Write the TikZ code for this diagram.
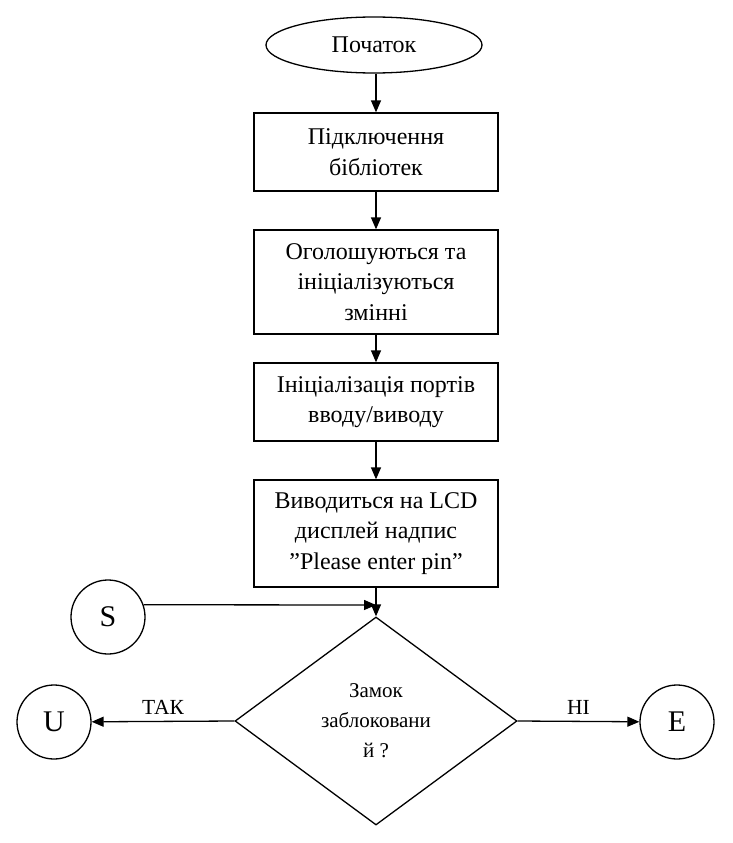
\documentclass[tikz,border=0pt]{standalone}
\usepackage{fontspec}
\setmainfont{Liberation Serif}
\usetikzlibrary{shapes.geometric,arrows.meta}
\begin{document}
\begin{tikzpicture}[x=1pt,y=-1pt,
  every node/.style={font=\fontsize{24}{30.5}\selectfont, align=center},
  proc/.style={draw, line width=1.3pt, minimum width=244pt, inner sep=0pt},
  term/.style={draw, ellipse, line width=1.3pt, minimum width=216pt, minimum height=56pt, inner sep=0pt},
  conn/.style={draw, circle, line width=1.3pt, minimum size=74pt, inner sep=0pt, font=\fontsize{30}{30}\selectfont},
  dec/.style={draw, diamond, line width=1.3pt, minimum width=282pt, minimum height=208pt, inner sep=0pt, font=\fontsize{21}{30}\selectfont},
  arr/.style={line width=1.3pt, -{Triangle[length=12pt,width=10pt]}},
  lbl/.style={font=\fontsize{21.5}{22}\selectfont}]
\useasboundingbox (0,0) rectangle (733,843);
\node[term] (start) at (374,45) {Початок};
\node[proc, minimum height=78pt] (b1) at (376,152) {Підключення\\бібліотек};
\node[proc, minimum height=104pt] (b2) at (376,282) {Оголошуються та\\ініціалізуються\\змінні};
\node[proc, minimum height=78pt] (b3) at (376,402) {Ініціалізація портів\\вводу/виводу};
\node[proc, minimum height=107pt] (b4) at (376,533.5) {Виводиться на LCD\\дисплей надпис\\”Please enter pin”};
\node[dec] (d) at (376,721) {Замок\\заблоковани\\й ?};
\node[conn] (S) at (108,617) {S};
\node[conn] (U) at (54,722) {U};
\node[conn] (E) at (677,722) {E};
\coordinate (j) at (376,605);
\draw[arr] (start.south -| b1) -- (b1);
\draw[arr] (b1) -- (b2);
\draw[arr] (b2) -- (b3);
\draw[arr] (b3) -- (b4);
\draw[arr] (b4) -- (d.north);
\draw[arr] (S.19) -- (j);
\draw[arr] (d.west) -- node[lbl, above=3pt] {ТАК} (U);
\draw[arr] (d.east) -- node[lbl, above=3pt] {НІ} (E);
\end{tikzpicture}
\end{document}
